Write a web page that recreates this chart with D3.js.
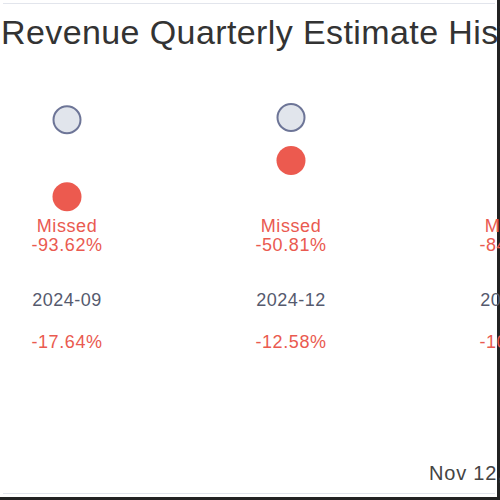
<!DOCTYPE html>
<html>
<head>
    <meta charset="utf-8" />
    <title>Revenue Quarterly Estimate History</title>
    <style>
        body {
            margin: 0;
            background: #fff;
            font-family: "Liberation Sans", Arial, Helvetica, sans-serif;
        }

        .title {
            font-size: 34px;
            letter-spacing: 0.4px;
            fill: #333;
        }

        .miss-label, .pct-label, .yoy-label {
            font-size: 18px;
            letter-spacing: 0.6px;
            fill: #ea5a50;
            text-anchor: middle;
        }

        .quarter-label {
            font-size: 18px;
            letter-spacing: 0.5px;
            fill: #555a6e;
            text-anchor: middle;
        }

        .stamp {
            font-size: 20px;
            letter-spacing: 0.8px;
            fill: #444;
        }
    </style>
</head>
<body>
    <script src="https://d3js.org/d3.v7.min.js"></script>
    <script>
        // values (revenue, arbitrary units)
        let quarters = ['2024-09', '2024-12', '2025-03']
        let estimates = [3.29, 3.38, 3.20]
        let actuals = [0.21, 1.66, 0.50]
        let surprise = ['-93.62%', '-50.81%', '-84.38%']
        let yoy = ['-17.64%', '-12.58%', '-10.42%']
        let stamp = 'Nov 12, 2024'

        let width = 500,
            height = 500

        let rows = { miss: 232, pct: 251, quarter: 306, yoy: 348 }

        let x = d3.scaleBand()
                    .domain(quarters)
                    .range([-45, -45 + 224 * quarters.length])

        let y = d3.scaleLinear()
                    .domain([0, 4])
                    .range([202, 102])

        let cx = function (d) { return x(d) + x.bandwidth() / 2 }

        let svg = d3.select('body')
                    .append('svg')
                    .attr('width', width)
                    .attr('height', height)

        // frame
        svg.append('rect')
            .attr('width', width).attr('height', height)
            .attr('fill', '#fff')
        svg.append('line')
            .attr('x1', 3).attr('x2', 495).attr('y1', 3.5).attr('y2', 3.5)
            .attr('stroke', '#e2e5ec')
        svg.append('line')
            .attr('x1', 3).attr('x2', 495).attr('y1', 493.5).attr('y2', 493.5)
            .attr('stroke', '#e2e5ec')
        svg.append('rect')
            .attr('x', 497).attr('y', 0).attr('width', 3).attr('height', 500)
            .attr('fill', '#222')
        svg.append('rect')
            .attr('x', 0).attr('y', 497).attr('width', 500).attr('height', 3)
            .attr('fill', '#222')

        svg.append('text')
            .classed('title', true)
            .attr('x', 1)
            .attr('y', 44)
            .text('Revenue Quarterly Estimate History')

        let cols = svg.append('g')
                    .selectAll('g')
                    .data(quarters)
                    .enter()
                        .append('g')

        cols.append('circle')
            .attr('cx', cx)
            .attr('cy', function (d, i) { return y(estimates[i]) })
            .attr('r', 13.5)
            .attr('fill', '#e1e5ec')
            .attr('stroke', '#6d7597')
            .attr('stroke-width', 2)

        cols.append('circle')
            .attr('cx', cx)
            .attr('cy', function (d, i) { return y(actuals[i]) })
            .attr('r', 14.5)
            .attr('fill', '#ec5a4f')

        cols.append('text')
            .classed('miss-label', true)
            .attr('x', cx)
            .attr('y', rows.miss)
            .text('Missed')

        cols.append('text')
            .classed('pct-label', true)
            .attr('x', cx)
            .attr('y', rows.pct)
            .text(function (d, i) { return surprise[i] })

        cols.append('text')
            .classed('quarter-label', true)
            .attr('x', cx)
            .attr('y', rows.quarter)
            .text(function (d) { return d })

        cols.append('text')
            .classed('yoy-label', true)
            .attr('x', cx)
            .attr('y', rows.yoy)
            .text(function (d, i) { return yoy[i] })

        svg.append('text')
            .classed('stamp', true)
            .attr('x', 429)
            .attr('y', 480)
            .text(stamp)
    </script>
</body>
</html>
